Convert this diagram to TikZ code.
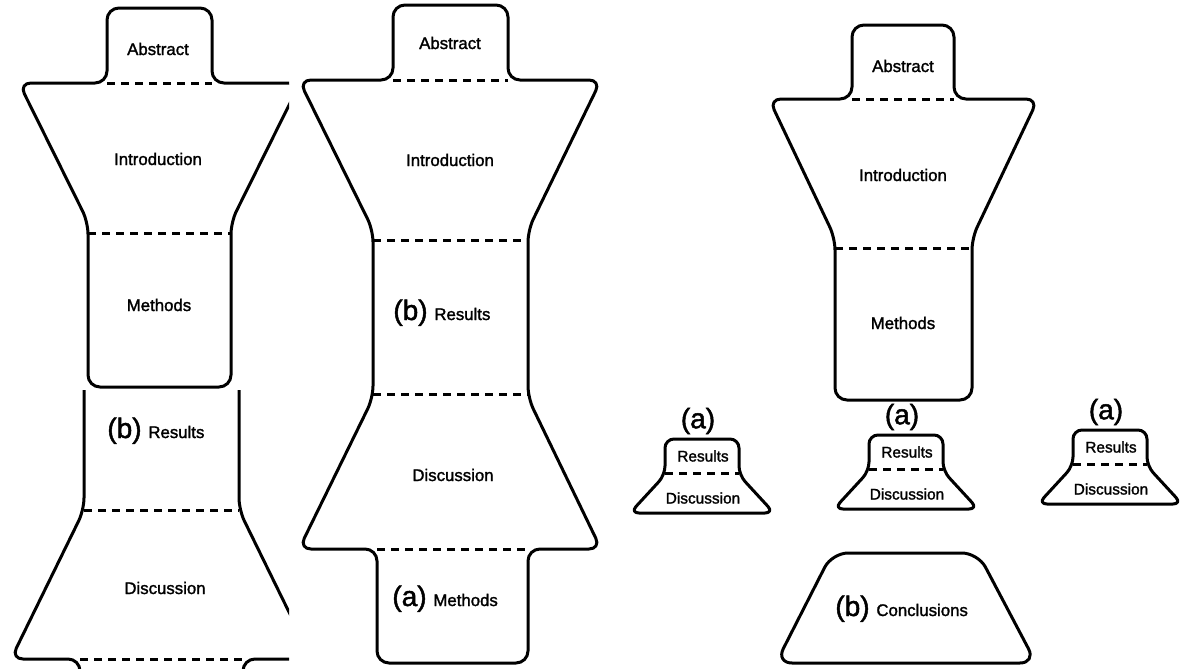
\documentclass[tikz,border=0pt]{standalone}
\usepackage{fontspec}
\setmainfont{Liberation Sans}[BoldFont={Liberation Sans}, BoldFeatures={FakeBold=1.6}]
\newcommand{\seclbl}{\fontsize{8.4}{10}\selectfont\bfseries}
\newcommand{\smalllbl}{\fontsize{7.7}{9}\selectfont\bfseries}
\newcommand{\taglbl}{\fontsize{14}{16}\selectfont\bfseries}
\tikzset{
  outline/.style={draw=black, line width=1.5pt, rounded corners=6pt, line join=round},
  sepline/.style={draw=black, line width=1.5pt, dash pattern=on 4pt off 3pt},
  sec/.style={font=\seclbl, inner sep=0pt},
  smallsec/.style={font=\smalllbl, inner sep=0pt},
  tag/.style={font=\taglbl, inner sep=0pt},
}

\begin{document}
\begin{tikzpicture}[x=0.5pt, y=-0.5pt]
\useasboundingbox (0,0) rectangle (1185,669);

% left, upper part
\begin{scope}
\clip (0,0) rectangle (289,389);
\draw[outline] (160,8) -- (212,8) -- (212,83) -- (300,83) -- (231,222) -- (231,387) -- (88,387) -- (88,222) -- (19,83) -- (107,83) -- (107,8) -- cycle;
\draw[sepline] (107,83) -- (212,83);
\draw[sepline] (88,233) -- (231,233);
\end{scope}
\node[sec] (abs1) at (158,49) {Abstract};
\node[sec] (intro1) at (158,159) {Introduction};
\node[sec] (meth1) at (159,305) {Methods};

% left, lower part
\begin{scope}
\clip (0,390) rectangle (289,669);
\draw[outline] (84,370) -- (84,510) -- (11,659) -- (80,659) -- (80,700);
\draw[outline] (239,370) -- (239,510) -- (312,659) -- (243,659) -- (243,700);
\draw[sepline] (84,510) -- (239,510);
\draw[sepline] (80,659) -- (243,659);
\end{scope}
\node[tag, anchor=base east] (tagb1) at (142,438) {(b)};
\node[sec, anchor=base west] (res1) at ([xshift=3pt]tagb1.base east) {Results};
\node[sec] (disc1) at (165,588) {Discussion};

% middle
\draw[outline] (450,5) -- (508,5) -- (508,80) -- (601,80) -- (528,230) -- (528,398) -- (601,549) -- (528,549) -- (528,663) -- (377,663) -- (377,549) -- (299,549) -- (373,398) -- (373,230) -- (299,80) -- (393,80) -- (393,5) -- cycle;
\draw[sepline] (393,80) -- (508,80);
\draw[sepline] (373,240) -- (528,240);
\draw[sepline] (373,394) -- (528,394);
\draw[sepline] (377,549) -- (528,549);
\node[sec] (abs2) at (450,43) {Abstract};
\node[sec] (intro2) at (450,160) {Introduction};
\node[tag, anchor=base east] (tagb2) at (428,320) {(b)};
\node[sec, anchor=base west] (res2) at ([xshift=3pt]tagb2.base east) {Results};
\node[sec] (disc2) at (453,475) {Discussion};
\node[tag, anchor=base east] (taga2) at (427,606) {(a)};
\node[sec, anchor=base west] (meth2) at ([xshift=3pt]taga2.base east) {Methods};

% right
\draw[outline] (903,25) -- (954,25) -- (954,99) -- (1038,99) -- (972,238) -- (972,400) -- (835,400) -- (835,238) -- (769,99) -- (852,99) -- (852,25) -- cycle;
\draw[sepline] (852,99) -- (954,99);
\draw[sepline] (835,248) -- (972,248);
\node[sec] (abs3) at (903,66) {Abstract};
\node[sec] (intro3) at (903,175) {Introduction};
\node[sec] (meth3) at (903,323) {Methods};

% small results/discussion pieces
\foreach \cx/\ty [count=\i] in {702/439, 906/435, 1110/430} {
  \draw[outline, rounded corners=4.5pt] (\cx,\ty) -- (\cx+37,\ty) -- (\cx+37,\ty+36) -- (\cx+72,\ty+74) -- (\cx-72,\ty+74) -- (\cx-37,\ty+36) -- (\cx-37,\ty) -- cycle;
  \draw[sepline] (\cx-37,\ty+34) -- (\cx+37,\ty+34);
  \node[tag] (a\i) at (\cx-4,\ty-18) {(a)};
  \node[smallsec] (res\i) at (\cx+1,\ty+17) {Results};
  \node[smallsec] (disc\i) at (\cx+1,\ty+59) {Discussion};
}

% conclusions
\draw[outline, rounded corners=8pt] (906,553) -- (978,553) -- (1036,663) -- (776,663) -- (832,553) -- cycle;
\node[tag, anchor=base east] (tagc) at (870,616) {(b)};
\node[sec, anchor=base west] (conc) at ([xshift=3pt]tagc.base east) {Conclusions};
\end{tikzpicture}
\end{document}
